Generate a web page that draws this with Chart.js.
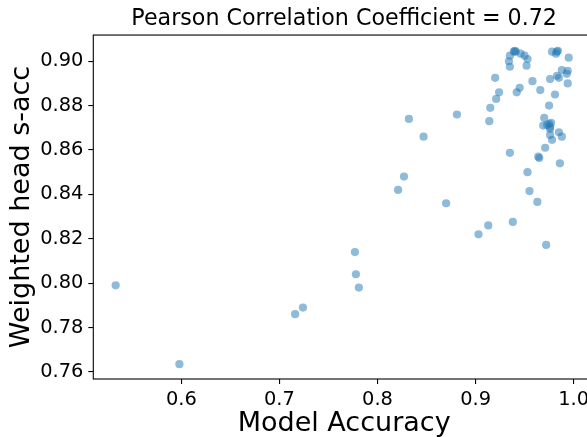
<!DOCTYPE html>
<html>
<head>
<meta charset="utf-8">
<script src="https://cdn.jsdelivr.net/npm/chart.js@4/dist/chart.umd.min.js"></script>
<style>
html,body{margin:0;padding:0;background:#fff;overflow:hidden;width:587px;height:437px;}
#wrap{width:600px;height:437px;}
</style>
</head>
<body>
<div id="wrap"><canvas id="c" width="600" height="437"></canvas></div>
<script>
const accuracy = [0.533,0.598,0.716,0.724,0.777,0.778,0.781,0.821,0.827,0.832,0.847,0.870,0.881,0.903,0.913,0.914,0.915,0.920,0.924,0.921,0.934,0.935,0.935,0.941,0.939,0.946,0.950,0.953,0.952,0.945,0.942,0.958,0.966,0.975,0.978,0.983,0.982,0.995,0.988,0.994,0.993,0.976,0.983,0.985,0.994,0.981,0.970,0.969,0.977,0.976,0.973,0.976,0.976,0.978,0.985,0.988,0.971,0.935,0.965,0.964,0.986,0.953,0.955,0.963,0.938,0.972,0.940,0.984,0.975];
const sacc = [0.799,0.7635,0.786,0.789,0.814,0.804,0.798,0.842,0.848,0.874,0.866,0.836,0.876,0.822,0.826,0.873,0.879,0.8925,0.886,0.883,0.900,0.9025,0.8975,0.9043,0.9043,0.9034,0.9025,0.901,0.898,0.888,0.886,0.891,0.887,0.880,0.9043,0.9043,0.9034,0.9016,0.896,0.8957,0.8943,0.892,0.8934,0.8925,0.890,0.885,0.8745,0.871,0.8722,0.8704,0.8713,0.8695,0.8668,0.8646,0.868,0.866,0.861,0.8587,0.8564,0.857,0.854,0.850,0.8415,0.8366,0.8276,0.8172,0.9047,0.9047,0.8718];
const xTicks = [0.6,0.7,0.8,0.9,1.0];
const yTicks = [0.76,0.78,0.80,0.82,0.84,0.86,0.88,0.90];
const titleText = 'Pearson Correlation Coefficient = 0.72';
const xLabel = 'Model Accuracy';
const yLabel = 'Weighted head s-acc';

const points = accuracy.map((a,i)=>({x:a,y:sacc[i]}));
const FONT = 'DejaVu Sans';

const spines = {
  id:'spines',
  afterDatasetsDraw(chart){
    const {ctx, chartArea:a} = chart;
    ctx.save();
    ctx.strokeStyle = '#000';
    ctx.lineWidth = 1.1;
    ctx.strokeRect(a.left, a.top, a.right-a.left, a.bottom-a.top);
    ctx.restore();
  }
};

new Chart(document.getElementById('c'), {
  type:'scatter',
  data:{datasets:[{
    data:points,
    backgroundColor:'rgba(31,119,180,0.5)',
    borderWidth:0,
    pointRadius:4.1,
    pointHoverRadius:4.1
  }]},
  options:{
    responsive:false,
    animation:false,
    layout:{padding:{left:0,right:5,top:0,bottom:0}},
    plugins:{
      legend:{display:false},
      tooltip:{enabled:false},
      title:{
        display:true,
        text:titleText,
        fullSize:false,
        color:'#000',
        font:{family:FONT,size:22.2,weight:'normal',lineHeight:1.2},
        padding:{top:5.6,bottom:2.8}
      }
    },
    scales:{
      x:{
        type:'linear',
        min:0.5102,
        max:1.0218,
        afterFit(s){ s.height = 58; },
        afterBuildTicks(s){ s.ticks = xTicks.map(v=>({value:v})); },
        ticks:{
          color:'#000',
          font:{family:FONT,size:19.4},
          padding:4,
          maxRotation:0,
          autoSkip:false,
          callback:v=>Number(v).toFixed(1)
        },
        grid:{display:true,drawOnChartArea:false,drawTicks:true,tickLength:5,color:'#000',lineWidth:1.1},
        border:{display:false},
        title:{display:true,text:xLabel,color:'#000',font:{family:FONT,size:27},padding:{top:0,bottom:-3.5}}
      },
      y:{
        type:'linear',
        min:0.7568,
        max:0.9118,
        afterFit(s){ s.width = 93.3; },
        afterBuildTicks(s){ s.ticks = yTicks.map(v=>({value:v})); },
        ticks:{
          color:'#000',
          font:{family:FONT,size:19.4},
          padding:5,
          autoSkip:false,
          callback:v=>Number(v).toFixed(2)
        },
        grid:{display:true,drawOnChartArea:false,drawTicks:true,tickLength:5,color:'#000',lineWidth:1.1},
        border:{display:false},
        title:{display:true,text:yLabel,color:'#000',font:{family:FONT,size:27},padding:{top:6,bottom:0}}
      }
    }
  },
  plugins:[spines]
});
</script>
</body>
</html>
